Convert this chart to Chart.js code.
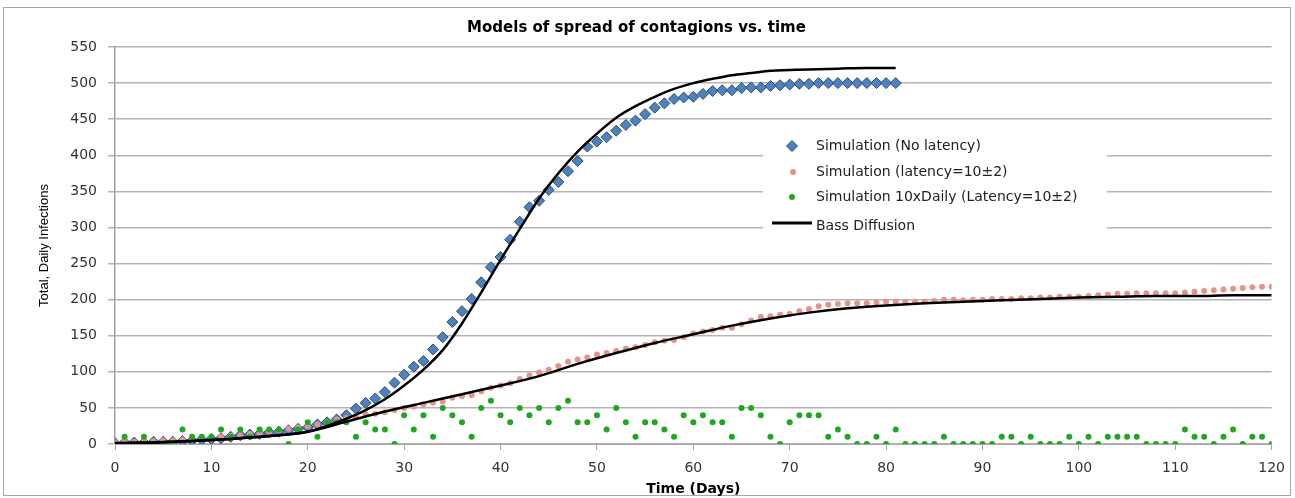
<!DOCTYPE html>
<html>
<head>
<meta charset="utf-8">
<script src="https://cdn.jsdelivr.net/npm/chart.js@4.4.1/dist/chart.umd.min.js"></script>
<style>
  html, body { margin: 0; padding: 0; background: #ffffff; }
  #wrap { width: 1295px; height: 498px; }
</style>
</head>
<body>
<div id="wrap"><canvas id="c" width="1295" height="498"></canvas></div>
<script>
// ---- Data ----
const chartTitle = "Models of spread of contagions vs. time";
const xAxisTitle = "Time (Days)";
const yAxisTitle = "Total, Daily Infections";
const seriesNames = [
  "Simulation (No latency)",
  "Simulation (latency=10±2)",
  "Simulation 10xDaily (Latency=10±2)",
  "Bass Diffusion"
];

// Simulation (No latency): days 0..81
const noLatency = [1,2,2,2,3,3,3,4,5,6,7,8,10,12,13,14,16,17,19,21,
  23,27,30,34,40,49,57,63,72,85,96,107,115,131,148,169,184,201,224,245,
  259,283,308,328,337,352,363,378,392,412,419,425,434,442,448,457,466,472,478,480,
  481,485,489,490,490,493,494,494,496,497,498,499,499,500,500,500,500,500,500,500,
  500,500];

// Simulation (latency=10±2): days 0..120
const latency = [2,3,3,4,4,5,5,6,7,8,9,10,11,12,14,15,17,19,21,23,
  25,27,30,34,36,38,41,42,44,47,50,52,55,57,59,64,66,68,73,78,
  81,84,90,95,99,103,108,114,117,120,124,126,129,132,134,137,141,143,144,148,
  153,156,158,161,161,166,171,176,177,179,180,184,187,191,193,194,195,195,195,196,
  197,197,197,197,197,198,200,200,199,200,200,201,201,201,202,202,203,203,204,204,
  204,205,206,207,208,208,209,209,209,209,209,210,211,212,213,214,215,216,217,218,
  218];

// Simulation 10xDaily (Latency=10±2): days 0..120
const daily = [0,10,0,10,0,0,0,20,10,10,10,20,10,20,10,20,20,20,0,20,
  30,10,30,30,30,10,30,20,20,0,40,20,40,10,50,40,30,10,50,60,
  40,30,50,40,50,30,50,60,30,30,40,20,50,30,10,30,30,20,10,40,
  30,40,30,30,10,50,50,40,10,0,30,40,40,40,10,20,10,0,0,10,
  0,20,0,0,0,0,10,0,0,0,0,0,10,10,0,10,0,0,0,10,
  0,10,0,10,10,10,10,0,0,0,0,20,10,10,0,10,20,0,10,10,
  0];

// Bass Diffusion (two curves), sampled days and values
const bassDaysA = [0,4,8,12,16,20,22,24,26,28,30,32,34,36,38,40,42,44,46,48,50,52,54,56,58,60,62,64,66,68,70,72,75,78,81];
const bassValsA = [1,2,4,7,11,17,25,35,47,62,81,103,130,167,210,255,298,340,375,405,430,452,468,481,492,500,506,511,514,517,518,519,520,521,521];
const bassDaysB = [0,4,8,12,16,20,24,28,32,36,40,44,48,52,56,60,64,68,72,76,80,84,88,92,96,100,104,108,112,116,120];
const bassValsB = [1,2,4,7,11,17,31,45,57,69,81,94,111,126,140,152,164,174,182,188,192,195,197,199,201,203,204,205,205,206,206];

const xTicks = [0,10,20,30,40,50,60,70,80,90,100,110,120];
const yTicks = [0,50,100,150,200,250,300,350,400,450,500,550];

// ---- Build data ----
const toXY = (arr) => arr.map((v, i) => ({ x: i, y: v }));
const pair = (xs, ys) => xs.map((x, i) => ({ x: x, y: ys[i] }));

const COL_BLUE = '#4F81BD', COL_BLUE_B = '#2C4D75';
const COL_RED = '#E5948D';
const COL_GREEN = '#1FA81F';

const bgPlugin = {
  id: 'bgFrame',
  beforeDraw(chart) {
    const ctx = chart.ctx;
    ctx.save();
    ctx.fillStyle = '#ffffff';
    ctx.fillRect(0, 0, chart.width, chart.height);
    ctx.strokeStyle = '#a6a6a6';
    ctx.lineWidth = 1;
    ctx.strokeRect(3.5, 7.5, 1287, 488);
    ctx.restore();
  }
};

const legendPlugin = {
  id: 'insideLegend',
  afterDraw(chart) {
    const ctx = chart.ctx;
    ctx.save();
    ctx.fillStyle = '#ffffff';
    ctx.fillRect(763, 131, 344, 104);
    ctx.font = '14px "DejaVu Sans", Verdana, sans-serif';
    ctx.textBaseline = 'middle';
    ctx.textAlign = 'left';
    const tx = 816;
    const rows = [146, 172, 197, 226];
    // diamond
    ctx.beginPath();
    ctx.moveTo(792, rows[0] - 5.5);
    ctx.lineTo(797.5, rows[0]);
    ctx.lineTo(792, rows[0] + 5.5);
    ctx.lineTo(786.5, rows[0]);
    ctx.closePath();
    ctx.fillStyle = COL_BLUE; ctx.fill();
    ctx.strokeStyle = COL_BLUE_B; ctx.lineWidth = 1; ctx.stroke();
    // red dot
    ctx.beginPath(); ctx.arc(793, rows[1], 3, 0, Math.PI * 2);
    ctx.fillStyle = COL_RED; ctx.fill();
    // green dot
    ctx.beginPath(); ctx.arc(792, rows[2], 3, 0, Math.PI * 2);
    ctx.fillStyle = COL_GREEN; ctx.fill();
    // black line
    ctx.beginPath(); ctx.moveTo(772, 223); ctx.lineTo(812, 223);
    ctx.strokeStyle = '#000'; ctx.lineWidth = 3; ctx.stroke();
    ctx.fillStyle = '#222';
    for (let i = 0; i < 4; i++) ctx.fillText(seriesNames[i], tx, rows[i]);
    ctx.restore();
  }
};

new Chart(document.getElementById('c'), {
  type: 'scatter',
  data: {
    datasets: [
      { label: seriesNames[0], data: toXY(noLatency), order: 3,
        pointStyle: 'rectRot', pointRadius: 5.5, pointBackgroundColor: COL_BLUE,
        pointBorderColor: COL_BLUE_B, pointBorderWidth: 1, showLine: false },
      { label: seriesNames[1], data: toXY(latency), order: 2,
        pointStyle: 'circle', pointRadius: 3, pointBackgroundColor: COL_RED,
        pointBorderWidth: 0, showLine: false },
      { label: seriesNames[2], data: toXY(daily), order: 1,
        pointStyle: 'circle', pointRadius: 3, pointBackgroundColor: COL_GREEN,
        pointBorderWidth: 0, showLine: false },
      { label: seriesNames[3], data: pair(bassDaysA, bassValsA), order: 0,
        showLine: true, borderColor: '#000', borderWidth: 2.5, pointRadius: 0,
        cubicInterpolationMode: 'monotone', fill: false },
      { label: seriesNames[3] + ' ', data: pair(bassDaysB, bassValsB), order: 0,
        showLine: true, borderColor: '#000', borderWidth: 2.5, pointRadius: 0,
        cubicInterpolationMode: 'monotone', fill: false }
    ]
  },
  options: {
    responsive: false,
    animation: false,
    devicePixelRatio: 1,
    layout: { padding: { left: 0, right: 22, top: 0, bottom: 0 } },
    plugins: {
      legend: { display: false },
      tooltip: { enabled: false },
      title: {
        display: true, text: chartTitle, color: '#000',
        font: { family: '"DejaVu Sans", Verdana, sans-serif', size: 15, weight: 'bold' },
        padding: { top: 19, bottom: 10 }
      }
    },
    scales: {
      x: {
        type: 'linear', min: 0, max: 120,
        afterBuildTicks: (s) => { s.ticks = xTicks.map(v => ({ value: v })); },
        afterFit: (s) => { s.height = 54; },
        ticks: { color: '#333', padding: 10,
          font: { family: '"DejaVu Sans", Verdana, sans-serif', size: 14 } },
        grid: { drawOnChartArea: false, drawTicks: true, tickLength: 6, color: '#a6a6a6', lineWidth: 1 },
        border: { display: true, color: '#a6a6a6', width: 1 },
        title: { display: true, text: xAxisTitle, color: '#000',
          font: { family: '"DejaVu Sans", Verdana, sans-serif', size: 14, weight: 'bold' },
          padding: { top: 0, bottom: 0 } }
      },
      y: {
        type: 'linear', min: 0, max: 550,
        afterBuildTicks: (s) => { s.ticks = yTicks.map(v => ({ value: v })); },
        afterFit: (s) => { s.width = 115; },
        ticks: { color: '#333', padding: 11,
          font: { family: '"DejaVu Sans", Verdana, sans-serif', size: 14 } },
        grid: { color: '#b4b4b4', lineWidth: 1.5, tickLength: 7, drawTicks: true },
        border: { display: true, color: '#a0a0a0', width: 1.5 },
        title: { display: true, text: yAxisTitle, color: '#000',
          font: { family: '"Liberation Sans", Arial, sans-serif', size: 13 },
          padding: { top: 37, bottom: 0 } }
      }
    }
  },
  plugins: [bgPlugin, legendPlugin]
});
</script>
</body>
</html>
